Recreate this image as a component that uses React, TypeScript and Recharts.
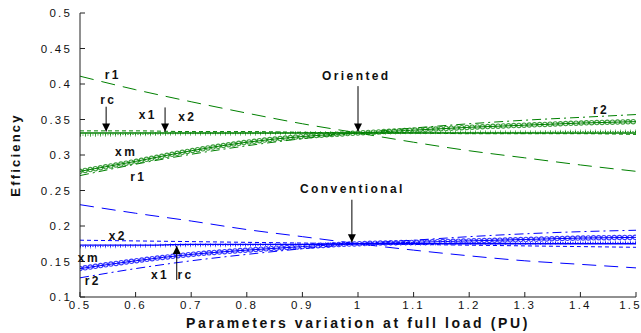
import React from 'react';
import { LineChart, Line, XAxis, YAxis, ReferenceLine, ReferenceDot } from 'recharts';

// parameter variation (PU)
const loadPU = [0.5, 0.6, 0.7, 0.8, 0.9, 1.0, 1.1, 1.2, 1.3, 1.4, 1.5];
const xTicks = [0.5, 0.6, 0.7, 0.8, 0.9, 1, 1.1, 1.2, 1.3, 1.4, 1.5];
const yTicks = [0.1, 0.15, 0.2, 0.25, 0.3, 0.35, 0.4, 0.45, 0.5];

// Oriented control (green)
const orientedR1 = [0.411, 0.392, 0.375, 0.359, 0.344, 0.331, 0.318, 0.306, 0.296, 0.286, 0.277];
const orientedR2 = [0.271, 0.287, 0.301, 0.313, 0.323, 0.331, 0.338, 0.344, 0.349, 0.353, 0.357];
const orientedXm = [0.277, 0.291, 0.306, 0.318, 0.326, 0.331, 0.335, 0.339, 0.342, 0.345, 0.347];
const orientedRc = [0.331, 0.331, 0.331, 0.331, 0.331, 0.331, 0.331, 0.331, 0.331, 0.331, 0.331];
const orientedX1 = [0.328, 0.329, 0.330, 0.330, 0.331, 0.331, 0.332, 0.332, 0.332, 0.333, 0.333];
const orientedX2 = [0.334, 0.334, 0.333, 0.333, 0.332, 0.331, 0.331, 0.330, 0.330, 0.330, 0.329];

// Conventional control (blue)
const conventionalR1 = [0.230, 0.218, 0.207, 0.195, 0.185, 0.175, 0.166, 0.158, 0.151, 0.146, 0.141];
const conventionalR2 = [0.127, 0.140, 0.151, 0.160, 0.168, 0.175, 0.180, 0.185, 0.189, 0.192, 0.194];
const conventionalXm = [0.140, 0.151, 0.160, 0.166, 0.171, 0.175, 0.177, 0.179, 0.181, 0.183, 0.184];
const conventionalRc = [0.173, 0.173, 0.174, 0.174, 0.174, 0.175, 0.175, 0.175, 0.175, 0.175, 0.175];
const conventionalX1 = [0.171, 0.172, 0.173, 0.173, 0.174, 0.175, 0.175, 0.176, 0.176, 0.177, 0.177];
const conventionalX2 = [0.180, 0.179, 0.178, 0.177, 0.176, 0.175, 0.174, 0.173, 0.172, 0.171, 0.170];

const data = loadPU.map((x, i) => ({
  x,
  oR1: orientedR1[i],
  oR2: orientedR2[i],
  oXm: orientedXm[i],
  oRc: orientedRc[i],
  oX1: orientedX1[i],
  oX2: orientedX2[i],
  cR1: conventionalR1[i],
  cR2: conventionalR2[i],
  cXm: conventionalXm[i],
  cRc: conventionalRc[i],
  cX1: conventionalX1[i],
  cX2: conventionalX2[i],
}));

// text annotations, in data coordinates
const orientedNotes = [
  { text: 'r1', x: 0.559, y: 0.412 },
  { text: 'rc', x: 0.551, y: 0.377 },
  { text: 'x1', x: 0.622, y: 0.356 },
  { text: 'x2', x: 0.693, y: 0.354 },
  { text: 'xm', x: 0.583, y: 0.304 },
  { text: 'r2', x: 1.437, y: 0.363 },
];
const conventionalNotes = [
  { text: 'r1', x: 0.605, y: 0.269 },
  { text: 'x2', x: 0.568, y: 0.186 },
  { text: 'xm', x: 0.516, y: 0.155 },
  { text: 'r2', x: 0.523, y: 0.1225 },
  { text: 'x1', x: 0.644, y: 0.131 },
  { text: 'rc', x: 0.69, y: 0.131 },
];
const titles = [
  { text: 'Oriented', x: 0.997, y: 0.411 },
  { text: 'Conventional', x: 0.99, y: 0.252 },
];
const arrows = [
  { x: 0.547, from: 0.368, to: 0.333 },
  { x: 0.653, from: 0.367, to: 0.333 },
  { x: 1.0, from: 0.397, to: 0.333 },
  { x: 0.989, from: 0.237, to: 0.177 },
  { x: 0.674, from: 0.124, to: 0.172 },
];

const FONT = '"Liberation Sans", Arial, Helvetica, sans-serif';
const GREEN = '#008000';
const GREEN_RING = '#3f9f3f';
const GREEN_LIGHT = '#7cc07c';
const BLUE = '#0000ff';
const BLUE_RING = '#3a3aff';
const BLUE_LIGHT = '#8080ff';

const common = {
  type: 'monotone' as const,
  dot: false,
  activeDot: false,
  isAnimationActive: false,
  strokeWidth: 1,
};

function seriesGroup(p: string, color: string, ring: string, light: string) {
  return [
    // circle markers along xm: a ring drawn with two round-capped dash patterns
    <Line key={p + 'ring'} {...common} dataKey={p + 'Xm'} name={p + 'ring'} stroke={ring} strokeWidth={5.5} strokeDasharray="0 5.2" strokeLinecap="round" />,
    <Line key={p + 'hole'} {...common} dataKey={p + 'Xm'} name={p + 'hole'} stroke="#ffffff" strokeWidth={3.2} strokeDasharray="0 5.2" strokeLinecap="round" />,
    <Line key={p + 'Xm'} {...common} dataKey={p + 'Xm'} stroke={color} />,
    <Line key={p + 'R1'} {...common} dataKey={p + 'R1'} stroke={color} strokeDasharray="14 8" />,
    <Line key={p + 'R2'} {...common} dataKey={p + 'R2'} stroke={color} strokeDasharray="9 4 2 4" />,
    <Line key={p + 'X2'} {...common} dataKey={p + 'X2'} stroke={color} strokeDasharray="4 3" />,
    // "+" markers on x1
    <Line key={p + 'plus'} {...common} dataKey={p + 'X1'} name={p + 'plus'} stroke={light} strokeWidth={4} strokeDasharray="1 4" />,
    <Line key={p + 'X1'} {...common} dataKey={p + 'X1'} stroke={color} strokeDasharray="1 1.5" />,
    <Line key={p + 'Rc'} {...common} dataKey={p + 'Rc'} stroke={color} strokeWidth={1.3} />,
  ];
}

const noteShape = (text: string, size: number) => (props: any) => (
  <text
    x={props.cx}
    y={props.cy}
    textAnchor="middle"
    dominantBaseline="central"
    fontFamily={FONT}
    fontWeight="bold"
    fontSize={size}
    letterSpacing={2.4}
    fill="#111"
  >
    {text}
  </text>
);

const arrowHead = (down: boolean) => (props: any) => {
  const { cx, cy } = props;
  const b = down ? cy - 8 : cy + 8;
  return <polygon points={`${cx - 4},${b} ${cx + 4},${b} ${cx},${cy}`} fill="#000" />;
};

export default function App() {
  const tickStyle = { fill: '#111', fontSize: 11.5, fontFamily: FONT, letterSpacing: 2.2 };
  return (
    <div style={{ position: 'absolute', left: 0, top: 0, width: 641, height: 333, background: '#fff' }}>
      <LineChart width={641} height={333} data={data} margin={{ top: 13, right: 5, bottom: 0, left: 18 }}>
        <XAxis
          dataKey="x"
          type="number"
          domain={[0.5, 1.5]}
          ticks={xTicks}
          allowDataOverflow
          height={36}
          stroke="#222"
          tickSize={-5}
          tickMargin={9}
          tick={tickStyle}
          label={{
            value: 'Parameters variation at full load (PU)',
            position: 'center',
            dy: 8,
            style: { fontFamily: FONT, fontWeight: 'bold', fontSize: 14, letterSpacing: 2.6, fill: '#111' },
          }}
        />
        <XAxis
          xAxisId="top"
          orientation="top"
          dataKey="x"
          type="number"
          domain={[0.5, 1.5]}
          ticks={xTicks}
          allowDataOverflow
          height={0}
          stroke="#222"
          tickSize={-5}
          tick={false}
        />
        <YAxis
          type="number"
          domain={[0.1, 0.5]}
          ticks={yTicks}
          allowDataOverflow
          width={62}
          stroke="#222"
          tickSize={-5}
          tickMargin={13}
          tick={tickStyle}
          label={{
            value: 'Efficiency',
            angle: -90,
            position: 'center',
            dx: -34,
            style: { fontFamily: FONT, fontWeight: 'bold', fontSize: 13, letterSpacing: 2.2, fill: '#111', textAnchor: 'middle' },
          }}
        />
        <YAxis
          yAxisId="right"
          orientation="right"
          type="number"
          domain={[0.1, 0.5]}
          ticks={yTicks}
          allowDataOverflow
          width={0}
          stroke="#222"
          tickSize={-5}
          tick={false}
        />
        {seriesGroup('o', GREEN, GREEN_RING, GREEN_LIGHT)}
        {seriesGroup('c', BLUE, BLUE_RING, BLUE_LIGHT)}
        {arrows.map((a, i) => (
          <ReferenceLine
            key={'al' + i}
            segment={[{ x: a.x, y: a.from }, { x: a.x, y: a.to }]}
            stroke="#000"
            strokeWidth={1}
          />
        ))}
        {arrows.map((a, i) => (
          <ReferenceDot key={'ah' + i} x={a.x} y={a.to} r={4} shape={arrowHead(a.to < a.from)} />
        ))}
        {[...orientedNotes, ...conventionalNotes].map((n, i) => (
          <ReferenceDot key={'n' + i} x={n.x} y={n.y} r={1} shape={noteShape(n.text, 12)} />
        ))}
        {titles.map((n, i) => (
          <ReferenceDot key={'t' + i} x={n.x} y={n.y} r={1} shape={noteShape(n.text, 12)} />
        ))}
      </LineChart>
    </div>
  );
}
